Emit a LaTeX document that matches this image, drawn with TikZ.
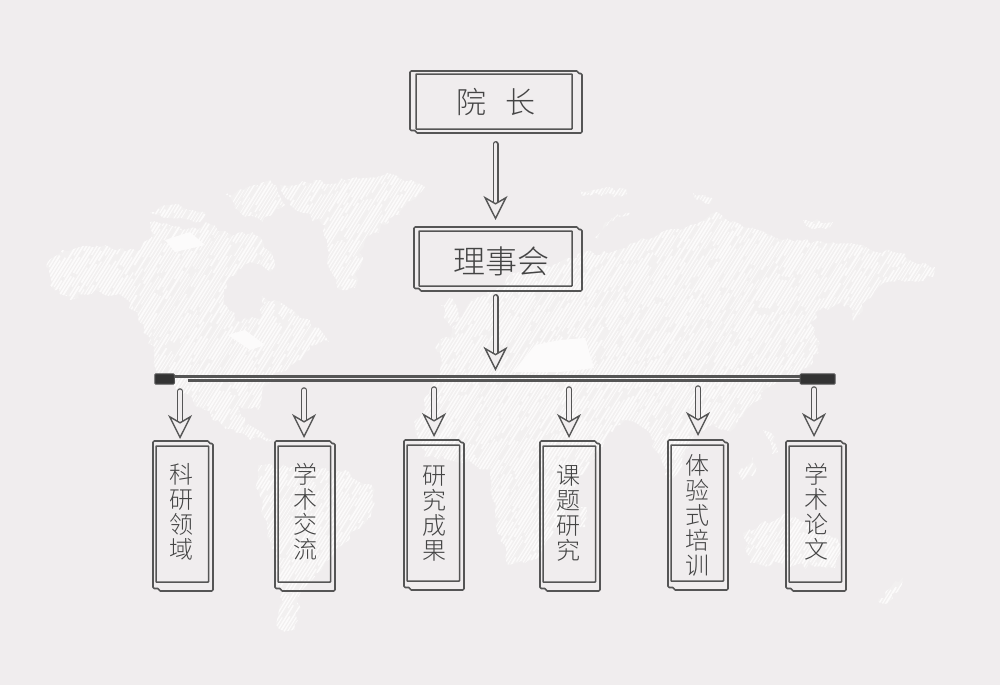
\documentclass[tikz,border=0pt]{standalone}
\usepackage{fontspec}
\usetikzlibrary{arrows.meta,calc,decorations.pathmorphing}
\newfontfamily\cjk{Noto Sans CJK SC Light}
\definecolor{bgc}{HTML}{F0EDEE}
\definecolor{landc}{HTML}{F2F0F0}
\definecolor{hatchc}{HTML}{FCFBFB}
\definecolor{linec}{HTML}{555555}
\definecolor{capc}{HTML}{333333}
\definecolor{txtc}{HTML}{444444}
\def\landpath{
 (47,262) -- (62,250) -- (100,247) -- (140,250) -- (152,232) -- (150,222) -- (172,226) -- (198,230) -- (205,222) -- (232,236) -- (252,232) -- (262,240) -- (275,262) -- (270,272) -- (250,262) -- (226,282) -- (226,305) -- (240,322) -- (262,315) -- (262,296) -- (275,300) -- (298,315) -- (322,332) -- (330,342) -- (310,345) -- (300,360) -- (278,372) -- (262,392) -- (258,410) -- (238,405) -- (245,425) -- (272,440) -- (250,440) -- (222,425) -- (205,410) -- (175,388) -- (155,367) -- (150,338) -- (125,298) -- (95,290) -- (70,300) -- (50,285) -- cycle
 (150,212) -- (170,205) -- (205,212) -- (200,222) -- (170,218) -- cycle
 (225,195) -- (270,180) -- (285,205) -- (262,222) -- (240,212) -- cycle
 (290,205) -- (280,185) -- (345,180) -- (395,175) -- (425,187) -- (400,215) -- (385,225) -- (365,240) -- (355,288) -- (340,290) -- (330,270) -- (327,240) -- (325,225) -- cycle
 (258,465) -- (300,468) -- (345,470) -- (375,490) -- (368,518) -- (342,545) -- (325,562) -- (302,590) -- (295,630) -- (278,628) -- (282,600) -- (270,540) -- (258,490) -- cycle
 (595,237) -- (612,218) -- (630,213) -- (605,222) -- (598,240) -- cycle
 (440,340) -- (452,332) -- (470,302) -- (520,272) -- (560,262) -- (590,250) -- (600,255) -- (632,243) -- (660,233) -- (690,225) -- (717,212) -- (743,227) -- (783,240) -- (833,242) -- (893,252) -- (935,267) -- (933,277) -- (883,283) -- (867,300) -- (853,322) -- (850,303) -- (820,310) -- (810,323) -- (820,343) -- (810,367) -- (773,385) -- (753,403) -- (730,432) -- (712,425) -- (693,433) -- (680,470) -- (668,480) -- (650,433) -- (625,420) -- (605,440) -- (590,462) -- (575,482) -- (562,520) -- (535,560) -- (508,565) -- (495,510) -- (490,470) -- (467,462) -- (425,455) -- (415,425) -- (432,385) -- (440,370) -- (437,352) -- cycle
 (737,473) -- (753,457) -- (756,472) -- (742,480) -- cycle
 (743,533) -- (787,513) -- (842,543) -- (835,568) -- (750,563) -- cycle
 (878,602) -- (903,577) -- (900,588) -- (884,604) -- cycle
 (693,193) -- (713,198) -- (710,204) -- (697,200) -- cycle
 (580,190) -- (627,189) -- (627,194) -- (582,196) -- cycle
 (803,220) -- (833,222) -- (830,227) -- (806,226) -- cycle
 (763,430) -- (770,432) -- (778,452) -- (772,454) -- cycle
 (580,507) -- (587,507) -- (586,527) -- (579,527) -- cycle
 (440,305) -- (452,298) -- (463,318) -- (450,326) -- cycle
}
\tikzset{
 x=1pt,y=-1pt,
 inbox/.style={draw=linec,line width=1.5pt,inner sep=0pt,outer sep=0pt,rounded corners=0.5pt},
 outbox/.style={draw=linec,line width=1.6pt,rounded corners=1.2pt,line join=round},
 txtnode/.style={text=txtc,inner sep=0pt,align=center},
 sidetxt/.style={txtnode,font=\cjk\fontsize{24}{25}\selectfont},
 blockarrow/.style={draw=linec,line width=1.4pt,double=bgc,double distance=3.2pt,line cap=round,
   -{Stealth[open,length=24pt,width=24pt,inset=7pt,line width=1.4pt,fill=bgc]}},
 barline/.style={draw=linec,line width=2.4pt},
 barcap/.style={fill=capc,draw=linec,line width=1pt,rounded corners=1pt},
}
\newcommand{\dblbox}[9]{%
 \draw[outbox] (#6,#7) -- (#8-4,#7) -- (#8-4,#7+2.5) -- (#8,#7+2.5) -- (#8,#9) -- (#6+6,#9) -- (#6+6,#9-2.5) -- (#6,#9-2.5) -- cycle;
 \node[inbox,minimum width=#4pt-#2pt,minimum height=#5pt-#3pt] (#1) at ({(#2+#4)/2},{(#3+#5)/2}) {};
}
\begin{document}
\begin{tikzpicture}
\useasboundingbox (0,0) rectangle (1000,685);
\fill[bgc] (0,0) rectangle (1000,685);
% hatched world map
\begin{scope}
 \pgfmathsetseed{11}
 \path[clip,decorate,decoration={random steps,segment length=5pt,amplitude=3pt}] \landpath;
 \fill[landc] (0,0) rectangle (1000,685);
 \foreach \i in {-400,-396.5,...,1000}{
  \pgfmathsetmacro{\ph}{rnd*90}
  \pgfmathsetmacro{\lw}{0.7+rnd*1.1}
  \pgfmathsetmacro{\ga}{6+rnd*12}
  \pgfmathsetmacro{\gb}{25+rnd*60}
  \draw[hatchc,line width=\lw pt,dash pattern=on \gb pt off \ga pt on 33pt off 4pt,dash phase=\ph pt] (\i,690) -- (\i+430,0);
 }
 \fill[hatchc] (513,372) -- (535,345) -- (560,340) -- (585,338) -- (594,368) -- (560,372) -- cycle;
 \fill[hatchc] (228,335) -- (245,330) -- (265,345) -- (250,350) -- cycle;
 \fill[hatchc] (165,240) -- (190,232) -- (205,245) -- (175,252) -- cycle;
\end{scope}
% boxes
\dblbox{b1}{416}{74}{572}{129}{410}{71}{582}{133}
\dblbox{b2}{419}{231}{572}{286}{414}{227}{582}{291}
\dblbox{c1}{156}{446}{208.5}{582}{153}{441}{213}{591}
\dblbox{c2}{278}{446}{330.5}{582}{275}{441}{335}{591}
\dblbox{c3}{407}{445}{459.5}{581}{404}{440}{464}{590}
\dblbox{c4}{543}{446}{595.5}{582}{540}{441}{600}{591}
\dblbox{c5}{671}{445}{723.5}{581}{668}{440}{728}{590}
\dblbox{c6}{789}{446}{841.5}{582}{786}{441}{846}{591}
% texts
\node[txtnode,font=\cjk\fontsize{30}{30}\selectfont] (t1) at (496,102) {院\hspace{20pt}长};
\node[txtnode,font=\cjk\fontsize{32}{32}\selectfont] (t2) at (501,261) {理事会};
\node[sidetxt] (s1) at (181,512) {科\\研\\领\\域};
\node[sidetxt] (s2) at (305,512) {学\\术\\交\\流};
\node[sidetxt] (s3) at (434,514) {研\\究\\成\\果};
\node[sidetxt] (s4) at (568,513) {课\\题\\研\\究};
\node[sidetxt] (s5) at (697,515) {体\\验\\式\\培\\训};
\node[sidetxt] (s6) at (816,512) {学\\术\\论\\文};
% bar
\node[inner sep=0pt,minimum width=681pt,minimum height=10pt] (bar) at (495,379) {};
\draw[barline] ($(bar.west)+(6,-2.5)$) -- ($(bar.east)+(-35,-2.5)$);
\draw[barline] ($(bar.west)+(34,1.5)$) -- ($(bar.east)+(-30,1.5)$);
\draw[barcap] ($(bar.north west)+(0.5,0)$) rectangle ($(bar.south west)+(20,0)$);
\draw[barcap] ($(bar.north east)+(-35.5,0)$) rectangle ($(bar.south east)+(-0.5,0)$);
% connectors
\draw[blockarrow,shorten <=15pt,shorten >=11pt] ($(b1.south)+(1.5,0)$) -- ($(b2.north)+(0,0)$);
\draw[blockarrow,shorten <=11pt,shorten >=3pt] ($(b2.south)+(0,0)$) -- ($(bar.north)+(0.5,0)$);
\draw[blockarrow,shorten <=7pt,shorten >=7pt] ($(bar.south -| c1.north)+(-2.2,0)$) -- ($(c1.north)+(-2.2,0)$);
\draw[blockarrow,shorten <=6pt,shorten >=8pt] ($(bar.south -| c2.north)+(-0.2,0)$) -- ($(c2.north)+(-0.2,0)$);
\draw[blockarrow,shorten <=5pt,shorten >=8pt] ($(bar.south -| c3.north)+(0.8,0)$) -- ($(c3.north)+(0.8,0)$);
\draw[blockarrow,shorten <=5pt,shorten >=8pt] ($(bar.south -| c4.north)+(-0.2,0)$) -- ($(c4.north)+(-0.2,0)$);
\draw[blockarrow,shorten <=4pt,shorten >=9pt] ($(bar.south -| c5.north)+(0.8,0)$) -- ($(c5.north)+(0.8,0)$);
\draw[blockarrow,shorten <=5pt,shorten >=9pt] ($(bar.south -| c6.north)+(-1.2,0)$) -- ($(c6.north)+(-1.2,0)$);
\end{tikzpicture}
\end{document}
